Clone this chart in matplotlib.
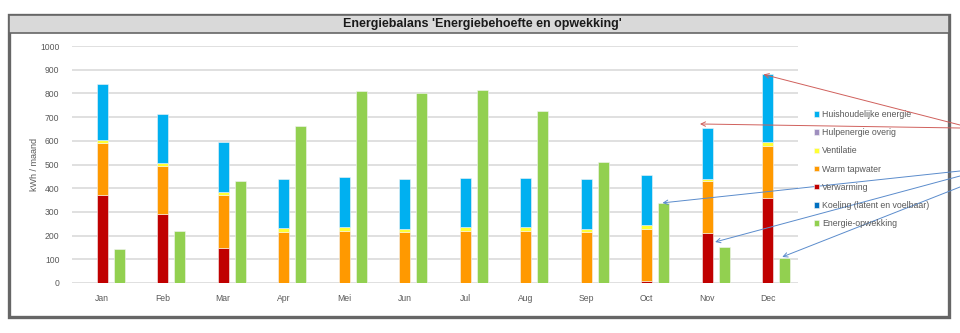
import matplotlib.pyplot as plt
from matplotlib.patches import Rectangle
import numpy as np

plt.rcParams['font.family'] = ['Liberation Sans', 'DejaVu Sans']

maanden = ['Jan', 'Feb', 'Mar', 'Apr', 'Mei', 'Jun', 'Jul', 'Aug', 'Sep', 'Oct', 'Nov', 'Dec']

# kWh per maand, demand stack from bottom to top
koeling = [0, 0, 0, 0, 0, 0, 0, 0, 0, 0, 0, 0]
verwarming = [370, 290, 148, 0, 0, 0, 0, 0, 0, 8, 212, 357]
warm_tapwater = [220, 203, 224, 216, 220, 216, 220, 220, 215, 220, 218, 223]
ventilatie = [15, 12, 13, 14, 18, 13, 15, 15, 13, 15, 10, 17]
hulpenergie = [0, 0, 0, 0, 0, 0, 0, 0, 0, 0, 0, 0]
huishoudelijk = [235, 208, 210, 209, 210, 208, 210, 210, 209, 212, 212, 286]
opwekking = [145, 218, 432, 663, 809, 800, 815, 726, 512, 337, 151, 105]

kleuren = {
    'Huishoudelijke energie': '#00B0F0',
    'Hulpenergie overig': '#9F8FBF',
    'Ventilatie': '#FFFF33',
    'Warm tapwater': '#FF9900',
    'Verwarming': '#C00000',
    'Koeling (latent en voelbaar)': '#0070C0',
    'Energie-opwekking': '#92D050',
}

W, H = 960, 333
fig = plt.figure(figsize=(W / 100, H / 100), dpi=100)

# outer frame and title bar
fig.patches.append(Rectangle((9 / W, 1 - 317 / H), 940 / W, 302 / H, transform=fig.transFigure,
                             facecolor='white', edgecolor='#666666', linewidth=2.4, zorder=-2))
fig.patches.append(Rectangle((9 / W, 1 - 33 / H), 940 / W, 18 / H, transform=fig.transFigure,
                             facecolor='#d9d9d9', edgecolor='#666666', linewidth=1.2, zorder=-1))
fig.text(482 / W, 1 - 24.5 / H, "Energiebalans 'Energiebehoefte en opwekking'", ha='center', va='center',
         fontsize=9, fontweight='bold', color='#1a1a1a')

ax = fig.add_axes([72 / W, 1 - 283 / H, 726 / W, 237 / H])
ax.set_facecolor('none')

x = np.arange(len(maanden))
bw = 0.18
dx = 0.28

stack = [
    ('Koeling (latent en voelbaar)', koeling),
    ('Verwarming', verwarming),
    ('Warm tapwater', warm_tapwater),
    ('Ventilatie', ventilatie),
    ('Hulpenergie overig', hulpenergie),
    ('Huishoudelijke energie', huishoudelijk),
]
handles = {}
bottom = np.zeros(len(maanden))
for naam, vals in stack:
    vals = np.array(vals, dtype=float)
    b = ax.bar(x, vals, bw, bottom=bottom, color=kleuren[naam], edgecolor='#f4f4f4',
               linewidth=0.4, zorder=3)
    handles[naam] = b
    bottom += vals
handles['Energie-opwekking'] = ax.bar(x + dx, opwekking, bw, color=kleuren['Energie-opwekking'],
                                      edgecolor='#f4f4f4', linewidth=0.4, zorder=3)

ax.set_xlim(-0.5, 11.5)
ax.set_ylim(0, 1000)
ax.set_yticks(range(0, 1001, 100))
ax.set_xticks(x)
ax.set_xticklabels(maanden)
ax.grid(axis='y', color='#e0e0e0', linewidth=1.4, zorder=0)
ax.set_axisbelow(True)
for s in ax.spines.values():
    s.set_visible(False)
ax.tick_params(length=0, labelsize=6.2, labelcolor='#595959')
ax.tick_params(axis='y', pad=9)
ax.tick_params(axis='x', pad=8)
ax.set_ylabel('kWh / maand', fontsize=6.5, color='#595959', labelpad=1)

volgorde = ['Huishoudelijke energie', 'Hulpenergie overig', 'Ventilatie', 'Warm tapwater',
            'Verwarming', 'Koeling (latent en voelbaar)', 'Energie-opwekking']
leg = fig.legend([handles[n] for n in volgorde], volgorde, loc='upper left',
                 bbox_to_anchor=(814 / W, 1 - 110 / H), frameon=False, fontsize=6.3,
                 handlelength=0.6, handleheight=0.6, handletextpad=0.35, labelspacing=1.05,
                 borderpad=0, borderaxespad=0)
for t in leg.get_texts():
    t.set_color('#595959')

# callout arrows coming in from the right
pijlen = [
    ((10.93, 880), (960, 125), '#d0605c'),
    ((9.88, 671), (960, 128), '#d0605c'),
    ((9.26, 338), (960, 171), '#5b8ccc'),
    ((10.13, 173), (960, 176), '#5b8ccc'),
    ((11.24, 110), (960, 187), '#5b8ccc'),
]
for xy, (px, py), kleur in pijlen:
    ax.annotate('', xy=xy, xycoords='data', xytext=(px, H - py), textcoords='figure pixels',
                arrowprops=dict(arrowstyle='->', color=kleur, lw=0.7, shrinkA=0, shrinkB=0,
                                mutation_scale=8),
                annotation_clip=False, zorder=5)

fig.savefig('out.png', dpi=100)
